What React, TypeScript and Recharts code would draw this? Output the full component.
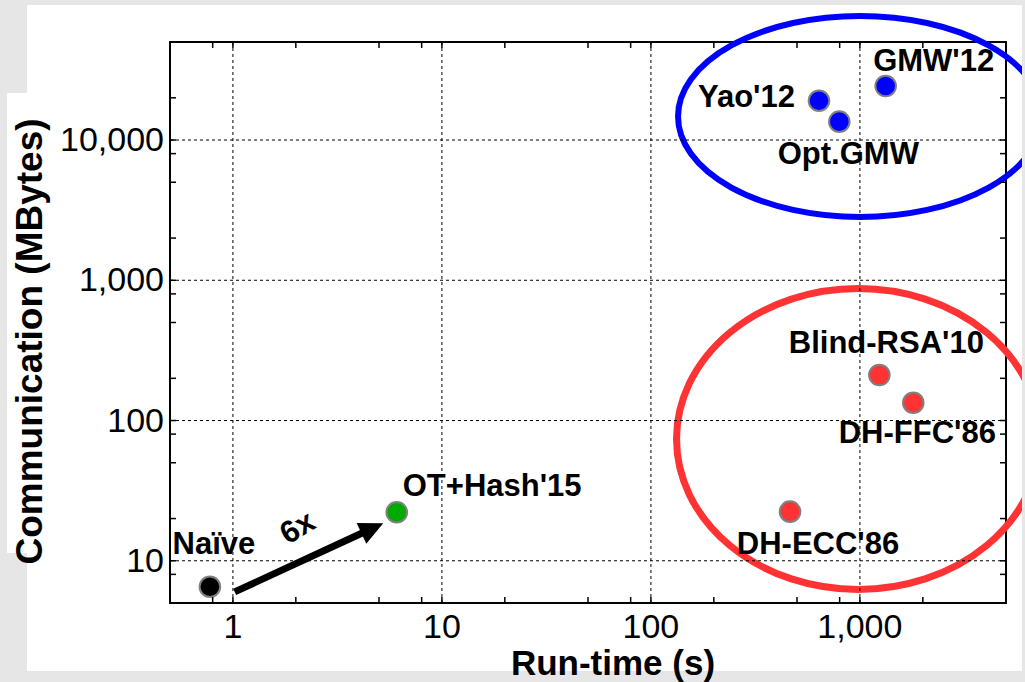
import React from 'react';
import { ScatterChart, Scatter, XAxis, YAxis, ReferenceLine, ReferenceArea } from 'recharts';

// ---- data ----
const methods = ['Naïve', "OT+Hash'15", "Yao'12", 'Opt.GMW', "GMW'12", "Blind-RSA'10", "DH-FFC'86", "DH-ECC'86"];
const runTimes = [0.776, 6.08, 637, 797, 1328, 1239, 1800, 463];
const communication = [6.53, 22.2, 19070, 13520, 24270, 211, 134, 22.4];
const groups = ['naive', 'ours', 'circuit', 'circuit', 'circuit', 'pk', 'pk', 'pk'];

const xDomain = [0.5, 5000];
const yDomain = [5, 50000];
const xMajorTicks = [1, 10, 100, 1000];
const yMajorTicks = [10, 100, 1000, 10000];
const xMinorTicks = [0.8, 2, 5, 8, 20, 50, 80, 200, 500, 800, 2000];
const yMinorTicks = [8, 20, 50, 80, 200, 500, 800, 2000, 5000, 8000, 20000];

const circuitEllipseX = [134.8, 7432];
const circuitEllipseY = [2827, 76640];
const pkEllipseX = [132.6, 7273];
const pkEllipseY = [6.24, 873.7];

const arrowFrom = { x: 1.02, y: 6.0 };
const arrowTo = { x: 5.24, y: 18.5 };
const arrowText = '6x';

const xTitle = 'Run-time (s)';
const yTitle = 'Communication (MBytes)';

// ---- styles ----
const FONT = '"Liberation Sans", Arial, Helvetica, sans-serif';
const groupColors: Record<string, string> = {
  naive: '#000000',
  ours: '#00aa00',
  circuit: '#0000ff',
  pk: '#ff3333',
};
const labelLayout: Record<string, { dx: number; dy: number; anchor: string }> = {
  'Naïve': { dx: 4, dy: -33, anchor: 'middle' },
  "OT+Hash'15": { dx: 6, dy: -16, anchor: 'start' },
  "Yao'12": { dx: -24, dy: 6, anchor: 'end' },
  'Opt.GMW': { dx: 9, dy: 42, anchor: 'middle' },
  "GMW'12": { dx: 48, dy: -15, anchor: 'middle' },
  "Blind-RSA'10": { dx: 7, dy: -22, anchor: 'middle' },
  "DH-FFC'86": { dx: 4, dy: 40, anchor: 'middle' },
  "DH-ECC'86": { dx: 28, dy: 42, anchor: 'middle' },
};

const points = methods.map((name, i) => ({
  name,
  x: runTimes[i],
  y: communication[i],
  group: groups[i],
}));

const fmt = (v: number) => v.toLocaleString('en-US');
const xTicks = [...xMajorTicks, ...xMinorTicks].sort((a, b) => a - b);
const yTicks = [...yMajorTicks, ...yMinorTicks].sort((a, b) => a - b);

const TICK_LEN = 6;
const TICK_FONT = 34;

const BottomTick = (p: any) => {
  const major = xMajorTicks.includes(p.payload.value);
  return (
    <g>
      <line x1={p.x} x2={p.x} y1={p.y} y2={p.y - TICK_LEN} stroke="#000" strokeWidth={1.5} />
      {major && (
        <text x={p.x} y={p.y + 35} textAnchor="middle" fontSize={TICK_FONT} fontFamily={FONT} fill="#000">
          {fmt(p.payload.value)}
        </text>
      )}
    </g>
  );
};
const TopTick = (p: any) => (
  <line x1={p.x} x2={p.x} y1={p.y} y2={p.y + TICK_LEN} stroke="#000" strokeWidth={1.5} />
);
const LeftTick = (p: any) => {
  const major = yMajorTicks.includes(p.payload.value);
  return (
    <g>
      <line x1={p.x} x2={p.x + TICK_LEN} y1={p.y} y2={p.y} stroke="#000" strokeWidth={1.5} />
      {major && (
        <text x={p.x - 6} y={p.y + 11} textAnchor="end" fontSize={TICK_FONT} fontFamily={FONT} fill="#000">
          {fmt(p.payload.value)}
        </text>
      )}
    </g>
  );
};
const RightTick = (p: any) => (
  <line x1={p.x} x2={p.x - TICK_LEN} y1={p.y} y2={p.y} stroke="#000" strokeWidth={1.5} />
);

const Dot = (p: any) => {
  const { cx, cy, payload } = p;
  if (cx == null || cy == null) return <g />;
  const lay = labelLayout[payload.name];
  return (
    <g>
      <circle cx={cx} cy={cy} r={10.3} fill={groupColors[payload.group]} stroke="#808080" strokeWidth={2} />
      <text
        x={cx + lay.dx}
        y={cy + lay.dy}
        textAnchor={lay.anchor as any}
        fontSize={31}
        fontWeight="bold"
        fontFamily={FONT}
        fill="#000"
      >
        {payload.name}
      </text>
    </g>
  );
};

const ellipseShape = (color: string, width: number) => (p: any) => {
  const w = Math.abs(p.width);
  const h = Math.abs(p.height);
  const x = Math.min(p.x, p.x + p.width);
  const y = Math.min(p.y, p.y + p.height);
  return (
    <ellipse cx={x + w / 2} cy={y + h / 2} rx={w / 2} ry={h / 2} fill="none" stroke={color} strokeWidth={width} />
  );
};

const arrowShape = (p: any) => {
  const { x1, y1, x2, y2 } = p;
  const dx = x2 - x1;
  const dy = y2 - y1;
  const len = Math.sqrt(dx * dx + dy * dy);
  const ux = dx / len;
  const uy = dy / len;
  const nx = uy;
  const ny = -ux;
  const headLen = 24;
  const headHalf = 11.5;
  const bx = x2 - ux * headLen;
  const by = y2 - uy * headLen;
  const mx = (x1 + x2) / 2;
  const my = (y1 + y2) / 2;
  const ang = (Math.atan2(dy, dx) * 180) / Math.PI;
  const tx = mx + nx * 33 + ux * 2;
  const ty = my + ny * 33 + uy * 2;
  return (
    <g>
      <line x1={x1} y1={y1} x2={bx + ux * 2} y2={by + uy * 2} stroke="#000" strokeWidth={7} />
      <polygon
        points={`${x2},${y2} ${bx + nx * headHalf},${by + ny * headHalf} ${bx - nx * headHalf},${by - ny * headHalf}`}
        fill="#000"
      />
      <text
        x={tx}
        y={ty}
        dy="0.35em"
        textAnchor="middle"
        fontSize={31}
        fontWeight="bold"
        fontFamily={FONT}
        fill="#000"
        transform={`rotate(${ang - 6} ${tx} ${ty})`}
      >
        {arrowText}
      </text>
    </g>
  );
};

const XTitle = (p: any) => {
  const vb = p.viewBox;
  return (
    <text
      x={vb.x + vb.width / 2 + 25}
      y={603 + 72}
      textAnchor="middle"
      fontSize={35}
      fontWeight="bold"
      fontFamily={FONT}
      fill="#000"
    >
      {xTitle}
    </text>
  );
};
const YTitle = (p: any) => {
  const vb = p.viewBox;
  const cx = 42;
  const cy = vb.y + vb.height / 2 + 19;
  return (
    <text
      x={cx}
      y={cy}
      textAnchor="middle"
      fontSize={37}
      fontWeight="bold"
      fontFamily={FONT}
      fill="#000"
      transform={`rotate(-90 ${cx} ${cy})`}
    >
      {yTitle}
    </text>
  );
};

export default function App() {
  return (
    <div
      style={{
        position: 'absolute',
        left: 0,
        top: 0,
        width: 1025,
        height: 682,
        background: '#e6e6e6',
        overflow: 'hidden',
      }}
    >
      <div style={{ position: 'absolute', left: 27, top: 5, width: 995, height: 666, background: '#fff' }} />
      <div style={{ position: 'absolute', left: 7, top: 93, width: 20, height: 460, background: '#fff' }} />
      <div style={{ position: 'absolute', left: 0, top: 0 }}>
        <ScatterChart width={1025} height={682} margin={{ top: 41, right: 18, bottom: 78, left: 169 }}>
          <XAxis
            xAxisId="b"
            dataKey="x"
            type="number"
            scale="log"
            domain={xDomain}
            allowDataOverflow
            ticks={xTicks}
            interval={0}
            height={1}
            tickSize={0}
            tickMargin={0}
            axisLine={false}
            tickLine={false}
            tick={<BottomTick />}
            label={<XTitle />}
          />
          <XAxis
            xAxisId="t"
            orientation="top"
            dataKey="x"
            type="number"
            scale="log"
            domain={xDomain}
            allowDataOverflow
            ticks={xTicks}
            interval={0}
            height={1}
            tickSize={0}
            tickMargin={0}
            axisLine={false}
            tickLine={false}
            tick={<TopTick />}
          />
          <YAxis
            yAxisId="l"
            dataKey="y"
            type="number"
            scale="log"
            domain={yDomain}
            allowDataOverflow
            ticks={yTicks}
            interval={0}
            width={1}
            tickSize={0}
            tickMargin={0}
            axisLine={false}
            tickLine={false}
            tick={<LeftTick />}
            label={<YTitle />}
          />
          <YAxis
            yAxisId="r"
            orientation="right"
            dataKey="y"
            type="number"
            scale="log"
            domain={yDomain}
            allowDataOverflow
            ticks={yTicks}
            interval={0}
            width={1}
            tickSize={0}
            tickMargin={0}
            axisLine={false}
            tickLine={false}
            tick={<RightTick />}
          />
          {xMajorTicks.map((v) => (
            <ReferenceLine key={'gx' + v} xAxisId="b" yAxisId="l" x={v} stroke="#000" strokeWidth={1} strokeDasharray="3 3" />
          ))}
          {yMajorTicks.map((v) => (
            <ReferenceLine key={'gy' + v} xAxisId="b" yAxisId="l" y={v} stroke="#000" strokeWidth={1} strokeDasharray="3 3" />
          ))}
          <ReferenceArea
            xAxisId="b"
            yAxisId="l"
            x1={xDomain[0]}
            x2={xDomain[1]}
            y1={yDomain[0]}
            y2={yDomain[1]}
            fill="none"
            fillOpacity={0}
            stroke="#000"
            strokeWidth={2}
            ifOverflow="visible"
          />
          <ReferenceArea
            xAxisId="b"
            yAxisId="l"
            x1={circuitEllipseX[0]}
            x2={circuitEllipseX[1]}
            y1={circuitEllipseY[0]}
            y2={circuitEllipseY[1]}
            ifOverflow="visible"
            shape={ellipseShape('#0000ff', 6)}
          />
          <ReferenceArea
            xAxisId="b"
            yAxisId="l"
            x1={pkEllipseX[0]}
            x2={pkEllipseX[1]}
            y1={pkEllipseY[0]}
            y2={pkEllipseY[1]}
            ifOverflow="visible"
            shape={ellipseShape('#ff3333', 7)}
          />
          <ReferenceLine
            xAxisId="b"
            yAxisId="l"
            segment={[arrowFrom, arrowTo]}
            ifOverflow="visible"
            shape={arrowShape}
          />
          <Scatter xAxisId="b" yAxisId="l" data={points} isAnimationActive={false} shape={<Dot />} />
        </ScatterChart>
      </div>
      <div style={{ position: 'absolute', left: 1022, top: 0, width: 3, height: 671, background: '#e6e6e6' }} />
    </div>
  );
}
